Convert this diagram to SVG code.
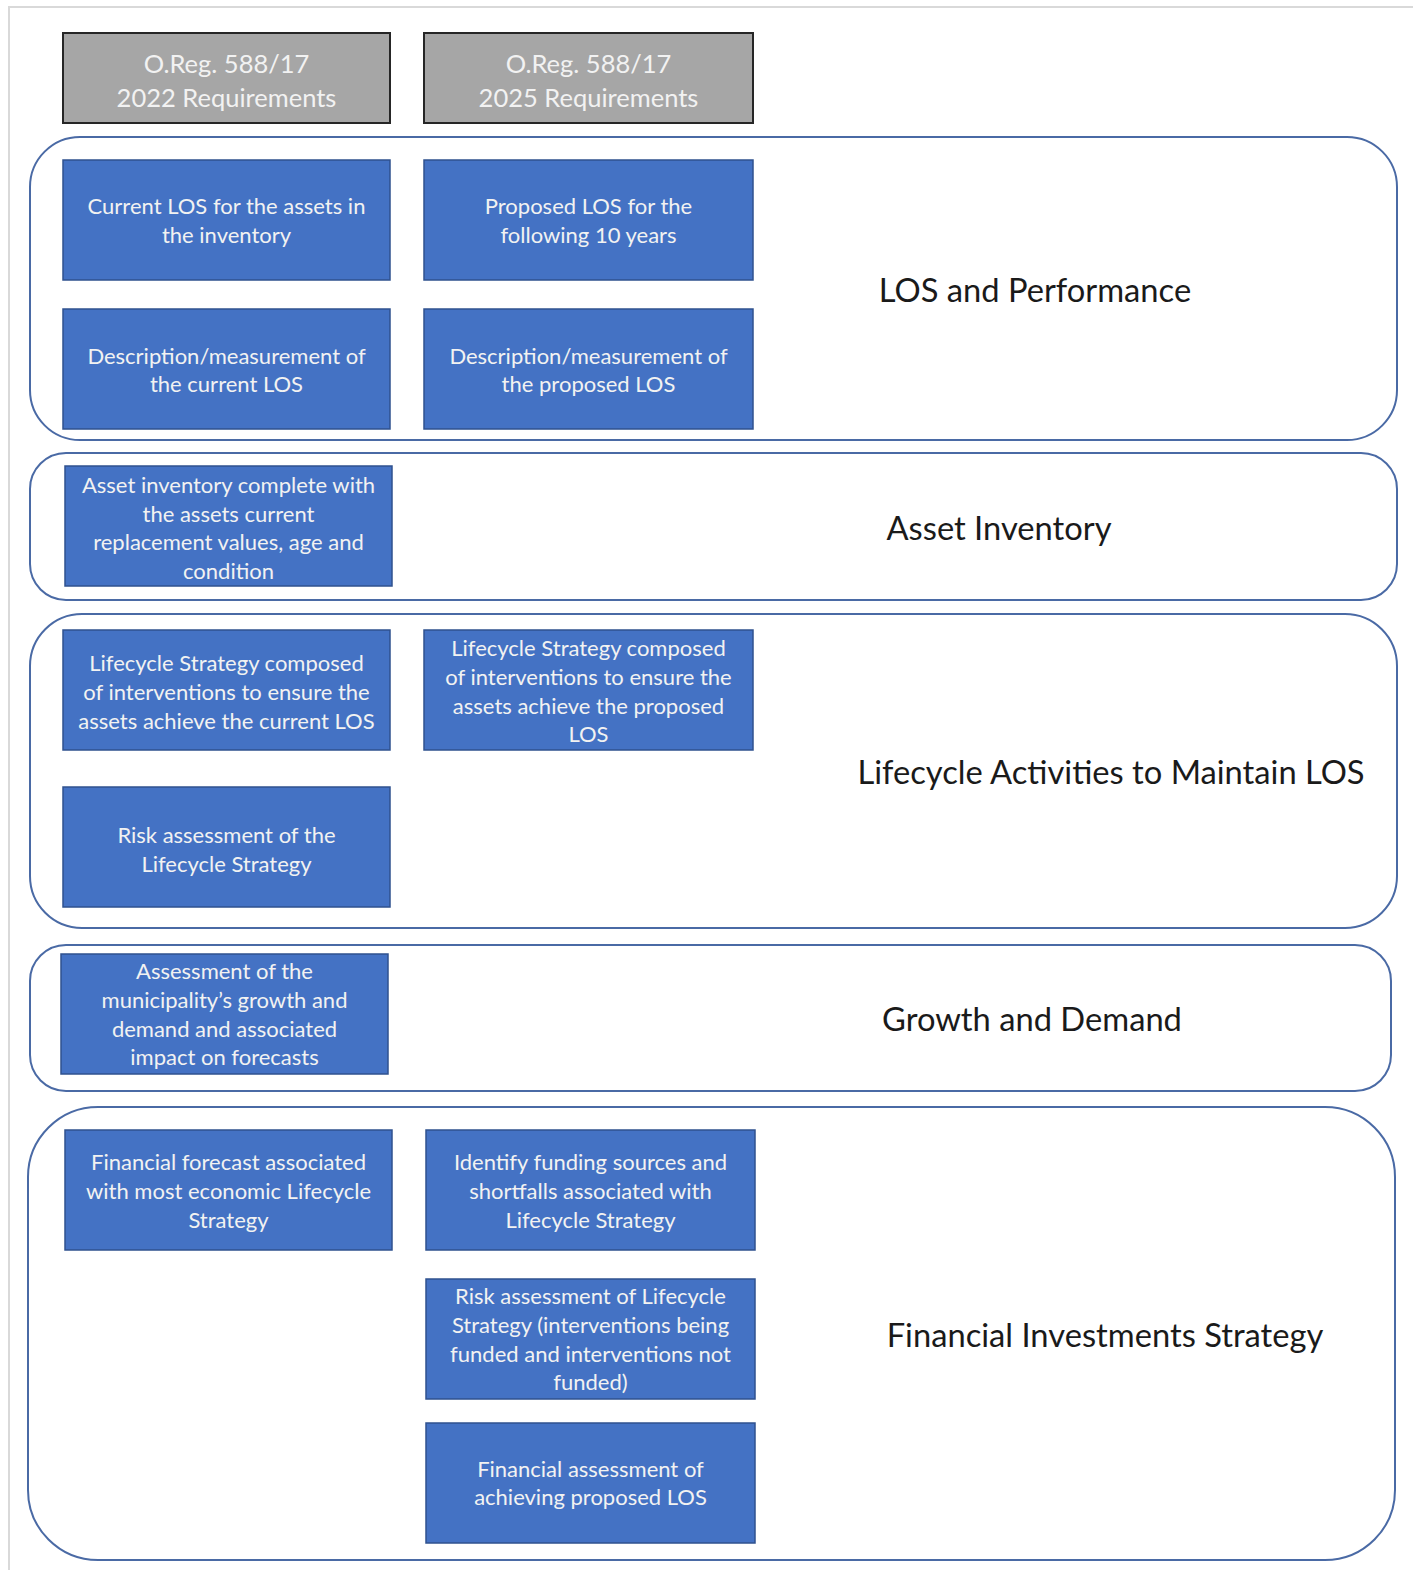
<svg xmlns="http://www.w3.org/2000/svg" width="1413" height="1570" viewBox="0 0 1413 1570">
  <style>
    .frame { fill: none; stroke: #d9d9d9; stroke-width: 2; }
    .head { fill: #a6a6a6; stroke: #262626; stroke-width: 2; }
    .headtxt { fill: #f2f2f2; font-family: Lato, "Open Sans", sans-serif; font-size: 25.5px; text-anchor: middle; dominant-baseline: central; }
    .group { fill: #ffffff; stroke: #4a6aa5; stroke-width: 2; }
    .box { fill: #4472c4; stroke: #2f528f; stroke-width: 1.5; }
    .boxtxt { fill: #f2f2f2; font-family: Lato, "Open Sans", sans-serif; font-size: 22px; text-anchor: middle; dominant-baseline: central; }
    .label { fill: #1a1a1a; font-family: Lato, "Open Sans", sans-serif; font-size: 32.7px; text-anchor: middle; dominant-baseline: central; }
  </style>

  <rect width="1413" height="1570" fill="#ffffff"/>
  <path class="frame" d="M9,1570 V7 H1413"/>

  <!-- column headers -->
  <g id="hdr-2022">
    <rect class="head" x="63" y="33" width="327" height="90"/>
    <text class="headtxt" x="226.5" y="63">O.Reg. 588/17</text>
    <text class="headtxt" x="226.5" y="97">2022 Requirements</text>
  </g>
  <g id="hdr-2025">
    <rect class="head" x="424" y="33" width="329" height="90"/>
    <text class="headtxt" x="588.5" y="63">O.Reg. 588/17</text>
    <text class="headtxt" x="588.5" y="97">2025 Requirements</text>
  </g>

  <!-- section containers -->
  <g id="sec-los">
    <rect class="group" x="30" y="137" width="1367" height="303" rx="50" ry="50"/>
    <text class="label" x="1035" y="289">LOS and Performance</text>
  </g>
  <g id="sec-inventory">
    <rect class="group" x="30" y="453" width="1367" height="147" rx="36" ry="36"/>
    <text class="label" x="999" y="527">Asset Inventory</text>
  </g>
  <g id="sec-lifecycle">
    <rect class="group" x="30" y="614" width="1367" height="314" rx="52" ry="52"/>
    <text class="label" x="1111" y="771">Lifecycle Activities to Maintain LOS</text>
  </g>
  <g id="sec-growth">
    <rect class="group" x="30" y="945" width="1361" height="146" rx="36" ry="36"/>
    <text class="label" x="1032" y="1018">Growth and Demand</text>
  </g>
  <g id="sec-financial">
    <rect class="group" x="28" y="1107" width="1367" height="453" rx="70" ry="70"/>
    <text class="label" x="1105" y="1334">Financial Investments Strategy</text>
  </g>

  <!-- requirement boxes -->
  <g id="los-current">
    <rect class="box" x="63" y="160" width="327" height="120"/>
    <text class="boxtxt" x="226.5" y="205">Current LOS for the assets in</text>
    <text class="boxtxt" x="226.5" y="234">the inventory</text>
  </g>
  <g id="los-proposed">
    <rect class="box" x="424" y="160" width="329" height="120"/>
    <text class="boxtxt" x="588.5" y="205">Proposed LOS for the</text>
    <text class="boxtxt" x="588.5" y="234">following 10 years</text>
  </g>
  <g id="los-current-desc">
    <rect class="box" x="63" y="309" width="327" height="120"/>
    <text class="boxtxt" x="226.5" y="355">Description/measurement of</text>
    <text class="boxtxt" x="226.5" y="383">the current LOS</text>
  </g>
  <g id="los-proposed-desc">
    <rect class="box" x="424" y="309" width="329" height="120"/>
    <text class="boxtxt" x="588.5" y="355">Description/measurement of</text>
    <text class="boxtxt" x="588.5" y="383">the proposed LOS</text>
  </g>

  <g id="inv-complete">
    <rect class="box" x="65" y="466" width="327" height="120"/>
    <text class="boxtxt" x="228.5" y="484">Asset inventory complete with</text>
    <text class="boxtxt" x="228.5" y="513">the assets current</text>
    <text class="boxtxt" x="228.5" y="541">replacement values, age and</text>
    <text class="boxtxt" x="228.5" y="570">condition</text>
  </g>

  <g id="lc-current">
    <rect class="box" x="63" y="630" width="327" height="120"/>
    <text class="boxtxt" x="226.5" y="662">Lifecycle Strategy composed</text>
    <text class="boxtxt" x="226.5" y="691">of interventions to ensure the</text>
    <text class="boxtxt" x="226.5" y="720">assets achieve the current LOS</text>
  </g>
  <g id="lc-proposed">
    <rect class="box" x="424" y="630" width="329" height="120"/>
    <text class="boxtxt" x="588.5" y="647">Lifecycle Strategy composed</text>
    <text class="boxtxt" x="588.5" y="676">of interventions to ensure the</text>
    <text class="boxtxt" x="588.5" y="705">assets achieve the proposed</text>
    <text class="boxtxt" x="588.5" y="733">LOS</text>
  </g>
  <g id="lc-risk">
    <rect class="box" x="63" y="787" width="327" height="120"/>
    <text class="boxtxt" x="226.5" y="834">Risk assessment of the</text>
    <text class="boxtxt" x="226.5" y="863">Lifecycle Strategy</text>
  </g>

  <g id="growth-assess">
    <rect class="box" x="61" y="954" width="327" height="120"/>
    <text class="boxtxt" x="224.5" y="970">Assessment of the</text>
    <text class="boxtxt" x="224.5" y="999">municipality’s growth and</text>
    <text class="boxtxt" x="224.5" y="1028">demand and associated</text>
    <text class="boxtxt" x="224.5" y="1056">impact on forecasts</text>
  </g>

  <g id="fin-forecast">
    <rect class="box" x="65" y="1130" width="327" height="120"/>
    <text class="boxtxt" x="228.5" y="1161">Financial forecast associated</text>
    <text class="boxtxt" x="228.5" y="1190">with most economic Lifecycle</text>
    <text class="boxtxt" x="228.5" y="1219">Strategy</text>
  </g>
  <g id="fin-sources">
    <rect class="box" x="426" y="1130" width="329" height="120"/>
    <text class="boxtxt" x="590.5" y="1161">Identify funding sources and</text>
    <text class="boxtxt" x="590.5" y="1190">shortfalls associated with</text>
    <text class="boxtxt" x="590.5" y="1219">Lifecycle Strategy</text>
  </g>
  <g id="fin-risk">
    <rect class="box" x="426" y="1279" width="329" height="120"/>
    <text class="boxtxt" x="590.5" y="1295">Risk assessment of Lifecycle</text>
    <text class="boxtxt" x="590.5" y="1324">Strategy (interventions being</text>
    <text class="boxtxt" x="590.5" y="1353">funded and interventions not</text>
    <text class="boxtxt" x="590.5" y="1381">funded)</text>
  </g>
  <g id="fin-proposed">
    <rect class="box" x="426" y="1423" width="329" height="120"/>
    <text class="boxtxt" x="590.5" y="1468">Financial assessment of</text>
    <text class="boxtxt" x="590.5" y="1496">achieving proposed LOS</text>
  </g>

  <!-- no connectors in this layout -->
  <g id="connectors"/>
</svg>
